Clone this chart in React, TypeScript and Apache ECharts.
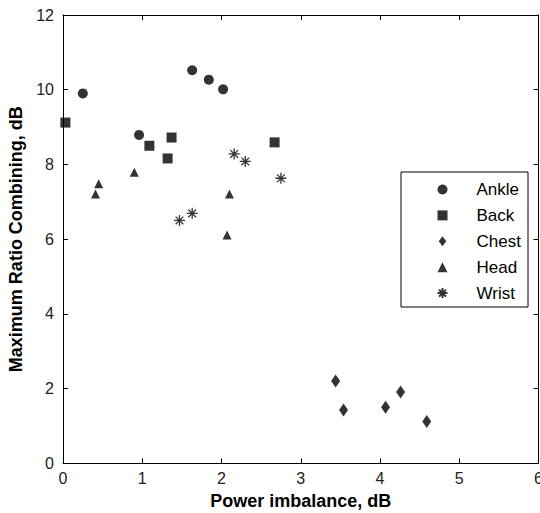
import React, { useEffect, useRef } from "react";
import * as echarts from "echarts";

const ankleX = [0.25, 0.96, 1.63, 1.84, 2.02];
const ankleY = [9.9, 8.79, 10.52, 10.27, 10.01];
const backX = [0.03, 1.09, 1.32, 1.37, 2.67];
const backY = [9.12, 8.5, 8.16, 8.72, 8.59];
const chestX = [3.44, 3.54, 4.07, 4.26, 4.59];
const chestY = [2.2, 1.43, 1.5, 1.91, 1.12];
const headX = [0.41, 0.45, 0.9, 2.1, 2.07];
const headY = [7.21, 7.48, 7.79, 7.21, 6.11];
const wristX = [1.47, 1.63, 2.16, 2.3, 2.75];
const wristY = [6.5, 6.69, 8.28, 8.08, 7.63];

const seriesNames = ["Ankle", "Back", "Chest", "Head", "Wrist"];
const xTicks = [0, 1, 2, 3, 4, 5, 6];
const yTicks = [0, 2, 4, 6, 8, 10, 12];

const DIAMOND = "path://M0,-6L4.5,0L0,6L-4.5,0Z";
const ASTERISK = "path://M0,-6L0,6M-6,0L6,0M-4.2,-4.2L4.2,4.2M-4.2,4.2L4.2,-4.2";

const zip = (xs: number[], ys: number[]) => xs.map((x, i) => [x, ys[i]]);

export default function App() {
  const ref = useRef<HTMLDivElement>(null);
  useEffect(() => {
    if (!ref.current) return;
    const chart = echarts.init(ref.current, null, { renderer: "svg" });
    const font = "'Liberation Sans', Arial, sans-serif";
    const axisCommon = {
      min: 0,
      axisLine: { show: true, onZero: false, lineStyle: { color: "#000", width: 1 } },
      axisTick: { show: true, inside: true, length: 5, lineStyle: { color: "#000" } },
      splitLine: { show: false },
    };
    chart.setOption({
      animation: false,
      backgroundColor: "#fff",
      grid: {
        left: 63,
        top: 15,
        right: 1.5,
        bottom: 49.7,
        containLabel: false,
        outerBoundsMode: "none",
      },
      xAxis: [
        {
          ...axisCommon,
          type: "value",
          position: "bottom",
          max: 6,
          interval: 1,
          name: "Power imbalance, dB",
          nameLocation: "middle",
          nameGap: 29,
          nameTextStyle: { fontFamily: font, fontWeight: "bold", fontSize: 18, color: "#000" },
          axisLabel: {
            fontFamily: font,
            fontSize: 16,
            color: "#222",
            margin: 7,
            formatter: (v: number) => (xTicks.includes(v) ? String(v) : ""),
          },
        },
        {
          ...axisCommon,
          type: "value",
          position: "top",
          max: 6,
          interval: 1,
          axisLabel: { show: false },
        },
      ],
      yAxis: [
        {
          ...axisCommon,
          type: "value",
          position: "left",
          max: 12,
          interval: 2,
          name: "Maximum Ratio Combining, dB",
          nameLocation: "middle",
          nameRotate: 90,
          nameGap: 34,
          nameTextStyle: { fontFamily: font, fontWeight: "bold", fontSize: 18, color: "#000" },
          axisLabel: {
            fontFamily: font,
            fontSize: 16,
            color: "#222",
            margin: 9,
            formatter: (v: number) => (yTicks.includes(v) ? String(v) : ""),
          },
        },
        {
          ...axisCommon,
          type: "value",
          position: "right",
          max: 12,
          interval: 2,
          axisLabel: { show: false },
        },
      ],
      legend: {
        orient: "vertical",
        left: 435,
        top: 181,
        padding: 0,
        itemWidth: 10,
        itemHeight: 10,
        itemGap: 8.9,
        data: seriesNames,
        textStyle: {
          fontFamily: font,
          fontSize: 17,
          color: "#000",
          lineHeight: 16,
          padding: [0, 0, 0, 24],
        },
      },
      graphic: [
        {
          type: "rect",
          shape: { x: 401, y: 172, width: 127, height: 135 },
          style: { fill: "none", stroke: "#000", lineWidth: 1 },
          z: 100,
        },
      ],
      series: [
        {
          name: "Ankle",
          type: "scatter",
          symbol: "circle",
          symbolSize: 10,
          itemStyle: { color: "#000" },
          data: zip(ankleX, ankleY),
        },
        {
          name: "Back",
          type: "scatter",
          symbol: "rect",
          symbolSize: 10,
          itemStyle: { color: "#000" },
          data: zip(backX, backY),
        },
        {
          name: "Chest",
          type: "scatter",
          symbol: DIAMOND,
          symbolSize: [9, 13],
          itemStyle: { color: "#000" },
          data: zip(chestX, chestY),
        },
        {
          name: "Head",
          type: "scatter",
          symbol: "triangle",
          symbolSize: 9,
          itemStyle: { color: "#000" },
          data: zip(headX, headY),
        },
        {
          name: "Wrist",
          type: "scatter",
          symbol: ASTERISK,
          symbolSize: 11,
          itemStyle: { color: "none", borderColor: "#000", borderWidth: 1.3 },
          data: zip(wristX, wristY),
        },
      ],
    });
    return () => chart.dispose();
  }, []);
  return <div ref={ref} style={{ width: 540, height: 513, position: "absolute", left: 0, top: 0 }} />;
}
